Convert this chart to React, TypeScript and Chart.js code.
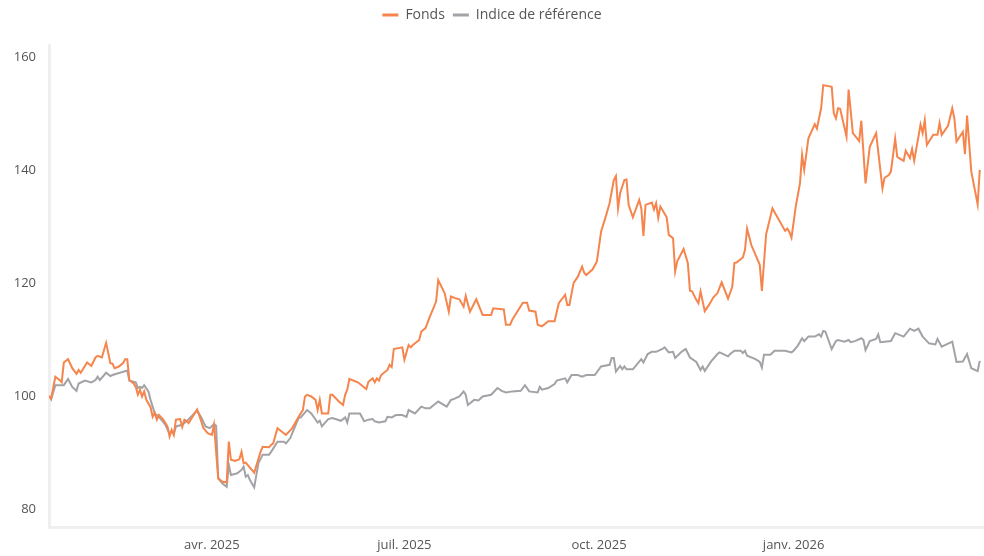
import React, { useEffect, useRef } from 'react';
import { Chart, registerables } from 'chart.js';

Chart.register(...registerables);

// Days counted from 2025-01-01
const seriesLabels = ['Fonds', 'Indice de référence'];
const tickDays = [90, 181, 273, 365];
const tickLabels = ['avr. 2025', 'juil. 2025', 'oct. 2025', 'janv. 2026'];
const yTicks = [80, 100, 120, 140, 160];

const fondsDays = [
  13, 14, 16, 18, 19, 20, 22, 24, 26, 27,
  28, 31, 33, 35, 36, 38, 40, 42, 43, 44,
  46, 48, 49, 50, 51, 53, 54, 55, 56, 57,
  58, 59, 61, 62, 63, 64, 65, 67, 69, 70,
  71, 72, 73, 75, 76, 77, 78, 79, 83, 84,
  86, 88, 90, 91, 93, 95, 97, 98, 99, 101,
  103, 104, 105, 106, 110, 113, 114, 117, 118, 119,
  121, 124, 125, 128, 131, 133, 134, 135, 137, 139,
  140, 141, 142, 145, 146, 147, 150, 152, 153, 154,
  155, 159, 163, 164, 166, 167, 168, 169, 170, 173,
  174, 175, 176, 180, 181, 183, 184, 185, 188, 189,
  191, 193, 196, 197, 200, 202, 203, 205, 207, 209,
  210, 212, 215, 218, 222, 223, 228, 229, 231, 232,
  237, 239, 240, 243, 244, 246, 249, 252, 254, 257,
  258, 259, 261, 263, 265, 266, 267, 270, 272, 274,
  276, 278, 280, 281, 282, 283, 285, 286, 287, 289,
  292, 293, 294, 295, 298, 299, 300, 301, 302, 305,
  306, 308, 309, 310, 313, 315, 316, 317, 319, 320,
  321, 323, 325, 327, 329, 331, 334, 336, 337, 338,
  341, 342, 343, 345, 349, 350, 352, 355, 356, 361,
  362, 363, 364, 366, 368, 369, 370, 372, 375, 376,
  378, 379, 383, 384, 385, 386, 387, 390, 391, 393,
  396, 397, 399, 401, 404, 407, 408, 410, 411, 413,
  414, 417, 418, 420, 421, 422, 425, 426, 427, 428,
  431, 433, 434, 435, 438, 440, 441, 442, 445, 446,
  447, 449, 452, 453,
];

const fondsValues = [
  100.0, 99.5, 103.4, 102.8, 102.4, 105.9, 106.5, 104.9, 103.9, 104.6,
  104.1, 105.9, 105.3, 106.8, 107.1, 106.8, 109.4, 105.8, 105.7, 104.9,
  105.2, 105.8, 106.5, 106.5, 102.8, 102.2, 101.6, 100.2, 101.1, 99.9,
  100.8, 99.3, 98.0, 96.3, 97.0, 95.8, 96.6, 95.8, 94.6, 92.8,
  94.0, 93.1, 95.8, 95.9, 94.5, 95.8, 95.6, 95.2, 97.6, 96.6,
  94.3, 93.4, 93.1, 94.9, 85.4, 84.8, 84.7, 91.9, 88.7, 88.5,
  88.8, 90.1, 88.1, 88.2, 86.4, 90.1, 91.0, 90.9, 91.3, 91.6,
  94.3, 93.4, 93.1, 94.3, 96.3, 97.5, 99.9, 100.2, 99.9, 99.3,
  97.5, 99.3, 96.9, 96.9, 100.2, 100.2, 99.0, 98.4, 100.2, 101.1,
  103.0, 102.4, 101.2, 102.5, 103.1, 102.4, 103.1, 102.7, 103.7, 104.6,
  105.5, 105.1, 108.3, 108.6, 106.4, 109.0, 108.6, 109.0, 109.9, 111.4,
  112.0, 114.0, 116.7, 120.5, 118.2, 114.9, 117.6, 117.3, 117.1, 115.8,
  117.7, 114.9, 117.1, 114.3, 114.3, 115.5, 115.3, 112.6, 112.6, 113.5,
  116.5, 116.5, 115.1, 114.9, 112.6, 112.3, 113.2, 113.2, 116.4, 117.9,
  116.1, 116.1, 120.0, 121.1, 122.9, 121.8, 121.4, 122.4, 123.8, 129.1,
  131.5, 134.1, 138.2, 138.9, 133.2, 135.9, 138.2, 138.3, 133.8, 131.6,
  134.7, 133.2, 128.3, 133.8, 134.2, 133.0, 134.1, 131.5, 133.5, 131.6,
  128.5, 127.9, 122.0, 123.8, 126.0, 123.5, 118.6, 118.5, 117.0, 116.4,
  118.5, 115.0, 116.1, 117.4, 118.2, 120.1, 117.2, 119.3, 123.5, 123.6,
  124.5, 125.8, 129.6, 126.7, 123.2, 118.6, 128.6, 133.2, 132.5, 129.2,
  129.6, 129.0, 128.0, 133.5, 137.6, 142.7, 140.0, 145.6, 148.1, 147.3,
  150.9, 155.0, 154.7, 150.0, 149.1, 150.9, 150.8, 145.9, 154.2, 146.5,
  145.1, 148.7, 137.6, 144.1, 146.5, 136.7, 138.6, 139.1, 139.7, 145.5,
  142.3, 141.6, 143.4, 142.1, 143.7, 141.6, 148.0, 146.5, 148.8, 144.4,
  146.2, 146.2, 148.3, 146.2, 147.8, 150.9, 149.1, 145.0, 146.7, 142.8,
  149.6, 139.7, 133.9, 140.0,
];

const indiceDays = [
  13, 14, 16, 20, 22, 24, 26, 27, 30, 33,
  35, 36, 37, 40, 42, 43, 50, 51, 54, 55,
  56, 57, 58, 60, 61, 62, 63, 65, 68, 70,
  71, 72, 73, 76, 77, 78, 83, 85, 87, 89,
  91, 92, 93, 95, 97, 98, 99, 102, 104, 105,
  106, 107, 108, 110, 112, 114, 117, 118, 121, 124,
  125, 127, 129, 131, 132, 135, 137, 140, 141, 142,
  145, 147, 151, 153, 154, 155, 160, 162, 164, 166,
  167, 169, 172, 173, 175, 177, 180, 182, 183, 186,
  189, 191, 193, 197, 201, 203, 204, 207, 209, 210,
  211, 214, 216, 218, 222, 225, 227, 229, 232, 236,
  238, 240, 244, 245, 246, 249, 252, 253, 257, 258,
  260, 263, 265, 267, 271, 274, 278, 279, 280, 281,
  283, 284, 285, 286, 289, 293, 294, 296, 298, 300,
  303, 304, 306, 308, 309, 312, 314, 316, 319, 321,
  322, 323, 326, 329, 330, 334, 335, 337, 340, 341,
  342, 343, 347, 349, 350, 351, 354, 356, 361, 364,
  365, 367, 369, 370, 372, 375, 377, 378, 379, 380,
  383, 385, 386, 389, 391, 392, 394, 397, 398, 399,
  401, 404, 405, 406, 411, 413, 417, 420, 422, 424,
  426, 427, 429, 432, 433, 435, 440, 442, 445, 447,
  449, 452, 453,
];

const indiceValues = [
  100.0, 99.4, 101.9, 101.9, 103.0, 101.6, 100.9, 102.2, 102.7, 102.4,
  102.8, 103.4, 102.8, 104.1, 103.5, 103.7, 104.5, 102.7, 102.4, 101.4,
  101.6, 101.4, 101.9, 100.8, 99.3, 98.1, 96.9, 96.3, 94.9, 93.3,
  93.7, 93.3, 94.6, 94.9, 95.2, 95.5, 97.4, 96.2, 94.6, 94.3,
  95.0, 94.7, 85.4, 84.5, 83.9, 87.8, 86.0, 86.3, 86.9, 87.5,
  85.7, 86.0, 85.1, 83.8, 88.1, 89.6, 89.6, 90.1, 91.9, 91.9,
  91.6, 92.5, 94.3, 96.1, 96.2, 97.5, 96.9, 95.3, 95.6, 94.6,
  95.9, 96.1, 95.6, 96.2, 95.3, 96.9, 96.9, 95.5, 95.8, 95.9,
  95.5, 95.3, 95.5, 96.3, 96.2, 96.6, 96.6, 96.3, 97.5, 96.9,
  98.1, 97.8, 97.8, 99.0, 98.1, 99.3, 99.4, 99.9, 100.8, 100.2,
  98.4, 99.3, 99.2, 99.9, 100.2, 101.4, 100.9, 100.6, 100.8, 100.9,
  101.9, 100.8, 100.6, 101.6, 101.1, 101.4, 102.1, 102.7, 103.1, 102.4,
  103.7, 103.7, 103.4, 103.7, 103.7, 105.2, 105.5, 106.7, 106.7, 104.3,
  105.3, 104.7, 105.2, 104.7, 104.7, 106.5, 105.9, 107.4, 107.8, 107.8,
  108.3, 108.6, 107.7, 107.8, 106.7, 107.8, 108.3, 106.8, 106.0, 104.6,
  105.2, 104.4, 106.1, 107.4, 107.7, 107.0, 107.4, 108.0, 108.0, 107.6,
  108.0, 107.1, 106.5, 106.0, 105.0, 107.3, 107.3, 108.0, 108.0, 107.7,
  108.0, 108.9, 110.2, 109.7, 110.5, 110.5, 110.9, 110.5, 111.5, 111.4,
  108.3, 109.7, 109.9, 109.6, 109.9, 109.5, 109.7, 110.2, 109.9, 108.1,
  109.7, 110.1, 110.9, 109.5, 109.7, 111.1, 110.5, 111.9, 111.5, 111.9,
  110.5, 110.1, 109.3, 109.1, 110.1, 108.7, 109.6, 106.0, 106.1, 107.4,
  104.9, 104.4, 106.2,
];

const FONT = "'Open Sans', 'Noto Sans', sans-serif";

export default function App() {
  const canvasRef = useRef<HTMLCanvasElement | null>(null);

  useEffect(() => {
    const canvas = canvasRef.current;
    if (!canvas) return;

    const legendGap = {
      id: 'legendGap',
      beforeUpdate(chart: any) {
        const lg = chart.legend;
        if (lg && !lg._gapPatched) {
          const fit = lg.fit;
          lg.fit = function () {
            fit.call(this);
            this.height += 13;
          };
          lg._gapPatched = true;
        }
      },
    };

    const chart = new Chart(canvas, {
      type: 'line',
      data: {
        datasets: [
          {
            label: seriesLabels[0],
            data: fondsDays.map((d, i) => ({ x: d, y: fondsValues[i] })),
            borderColor: '#F5854C',
            backgroundColor: '#F5854C',
            borderWidth: 2,
            pointRadius: 0,
            tension: 0,
          },
          {
            label: seriesLabels[1],
            data: indiceDays.map((d, i) => ({ x: d, y: indiceValues[i] })),
            borderColor: '#A2A2A7',
            backgroundColor: '#A2A2A7',
            borderWidth: 2,
            pointRadius: 0,
            tension: 0,
          },
        ],
      },
      options: {
        animation: false,
        responsive: true,
        maintainAspectRatio: false,
        layout: { padding: { top: 0, left: 0, right: 0, bottom: 0 } },
        plugins: {
          tooltip: { enabled: false },
          legend: {
            display: true,
            position: 'top',
            labels: {
              usePointStyle: true,
              pointStyle: 'line',
              pointStyleWidth: 16,
              padding: 8,
              color: '#555555',
              font: { family: FONT, size: 14 },
              generateLabels(chart: any) {
                const items = Chart.defaults.plugins.legend.labels.generateLabels(chart);
                return items.map((it: any) => ({ ...it, lineWidth: 3 }));
              },
            },
          },
        },
        scales: {
          x: {
            type: 'linear',
            min: 13,
            max: 455,
            grid: { display: false, drawTicks: false },
            border: { display: true, color: '#EFEFEF', width: 3 },
            afterBuildTicks(scale: any) {
              scale.ticks = tickDays.map((v) => ({ value: v }));
            },
            afterFit(scale: any) {
              scale.height = 29;
            },
            ticks: {
              autoSkip: false,
              maxRotation: 0,
              padding: 10,
              color: '#555555',
              font: { family: FONT, size: 13 },
              callback(value: any) {
                const idx = tickDays.indexOf(Number(value));
                return idx >= 0 ? tickLabels[idx] : '';
              },
            },
          },
          y: {
            type: 'linear',
            min: 76.8,
            max: 162.1,
            grid: { display: false, drawTicks: false },
            border: { display: true, color: '#EFEFEF', width: 3 },
            afterBuildTicks(scale: any) {
              scale.ticks = yTicks.map((v) => ({ value: v }));
            },
            afterFit(scale: any) {
              scale.width = 49;
            },
            ticks: {
              padding: 13,
              color: '#555555',
              font: { family: FONT, size: 13 },
            },
          },
        },
      },
      plugins: [legendGap],
    });

    return () => {
      chart.destroy();
    };
  }, []);

  return (
    <div
      style={{
        position: 'fixed',
        left: 0,
        top: 0,
        width: 984,
        height: 556,
        background: '#ffffff',
      }}
    >
      <canvas ref={canvasRef} />
    </div>
  );
}
